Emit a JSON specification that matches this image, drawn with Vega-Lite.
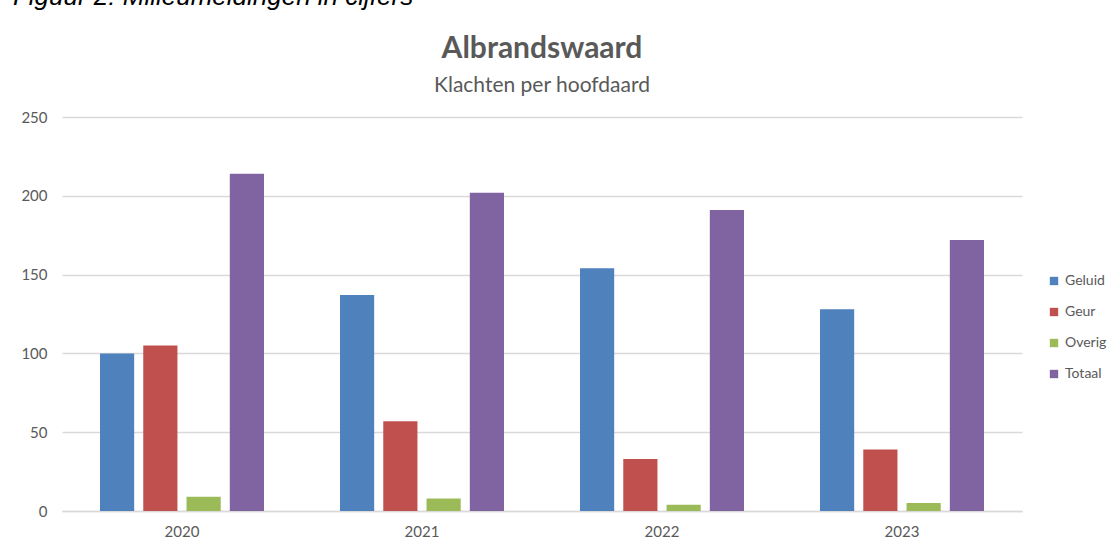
{
  "$schema": "https://vega.github.io/schema/vega-lite/v6.json",
  "padding": {"left": 12, "top": -16, "right": 5, "bottom": 5},
  "title": {
    "text": "Figuur 2: Milieumeldingen in cijfers",
    "anchor": "start",
    "font": "Liberation Sans",
    "fontStyle": "italic",
    "fontWeight": "normal",
    "fontSize": 26,
    "color": "#000000",
    "dx": -8,
    "offset": 24
  },
  "data": {
    "values": [
      {"jaar": "2020", "soort": "Geluid", "aantal": 100},
      {"jaar": "2020", "soort": "Geur", "aantal": 105},
      {"jaar": "2020", "soort": "Overig", "aantal": 9},
      {"jaar": "2020", "soort": "Totaal", "aantal": 214},
      {"jaar": "2021", "soort": "Geluid", "aantal": 137},
      {"jaar": "2021", "soort": "Geur", "aantal": 57},
      {"jaar": "2021", "soort": "Overig", "aantal": 8},
      {"jaar": "2021", "soort": "Totaal", "aantal": 202},
      {"jaar": "2022", "soort": "Geluid", "aantal": 154},
      {"jaar": "2022", "soort": "Geur", "aantal": 33},
      {"jaar": "2022", "soort": "Overig", "aantal": 4},
      {"jaar": "2022", "soort": "Totaal", "aantal": 191},
      {"jaar": "2023", "soort": "Geluid", "aantal": 128},
      {"jaar": "2023", "soort": "Geur", "aantal": 39},
      {"jaar": "2023", "soort": "Overig", "aantal": 5},
      {"jaar": "2023", "soort": "Totaal", "aantal": 172}
    ]
  },
  "vconcat": [
    {
      "width": 960,
      "height": 394,
      "title": {
        "text": "Albrandswaard",
        "subtitle": "Klachten per hoofdaard",
        "anchor": "middle",
        "font": "Lato",
        "fontSize": 30,
        "fontWeight": "bold",
        "color": "#595959",
        "subtitleFont": "Lato",
        "subtitleFontSize": 21,
        "subtitleColor": "#595959",
        "subtitlePadding": 11,
        "offset": 14
      },
      "mark": {"type": "bar"},
      "encoding": {
        "x": {
          "field": "jaar",
          "type": "nominal",
          "title": null,
          "scale": {"paddingInner": 0.3167, "paddingOuter": 0.1583},
          "axis": {
            "labelAngle": 0,
            "labelFont": "Lato",
            "labelFontSize": 15,
            "labelColor": "#595959",
            "labelPadding": 13,
            "ticks": false,
            "domainColor": "#d9d9d9",
            "domainWidth": 1.3
          }
        },
        "xOffset": {
          "field": "soort",
          "type": "nominal",
          "scale": {"paddingInner": 0.21, "paddingOuter": 0}
        },
        "y": {
          "field": "aantal",
          "type": "quantitative",
          "title": null,
          "scale": {"domain": [0, 250]},
          "axis": {
            "values": [0, 50, 100, 150, 200, 250],
            "labelFont": "Lato",
            "labelFontSize": 15,
            "labelColor": "#595959",
            "labelPadding": 15,
            "ticks": false,
            "domain": false,
            "gridColor": "#d9d9d9",
            "gridWidth": 1.3
          }
        },
        "color": {
          "field": "soort",
          "type": "nominal",
          "title": null,
          "scale": {
            "domain": ["Geluid", "Geur", "Overig", "Totaal"],
            "range": ["#4F81BD", "#C0504D", "#9BBB59", "#8064A2"]
          },
          "legend": {
            "orient": "none",
            "legendX": 985,
            "legendY": 157,
            "symbolType": "square",
            "symbolSize": 70,
            "symbolStrokeWidth": 0,
            "labelFont": "Lato",
            "labelFontSize": 14,
            "labelColor": "#595959",
            "rowPadding": 17,
            "labelOffset": 4
          }
        }
      }
    }
  ],
  "config": {
    "view": {"stroke": null},
    "concat": {"spacing": 0}
  }
}
